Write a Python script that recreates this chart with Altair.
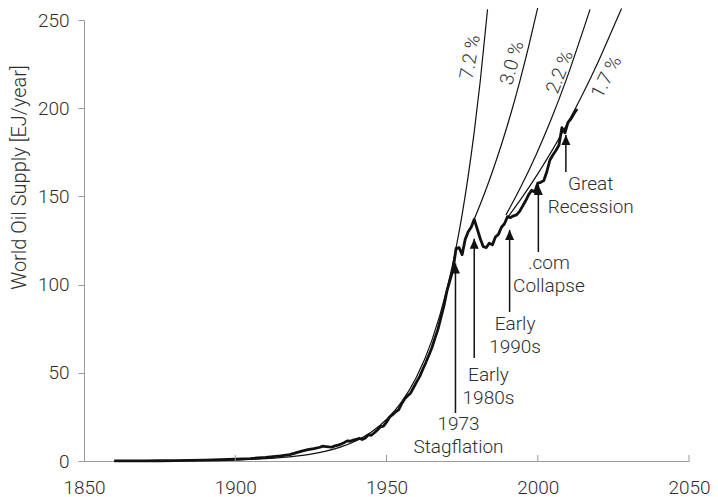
import altair as alt
import pandas as pd

# ---- data ----
data_years = [1860, 1865, 1870, 1875, 1880, 1885, 1890, 1895, 1900, 1905, 1910, 1915, 1918,
              1920, 1922, 1924, 1926, 1928, 1929, 1930, 1931, 1932, 1933, 1934, 1935, 1936,
              1937, 1938, 1939, 1940, 1941, 1942, 1943, 1944, 1945, 1946, 1947, 1948, 1949,
              1950, 1951, 1952, 1953, 1954, 1955, 1956, 1957, 1958, 1959, 1960, 1961, 1962,
              1963, 1964, 1965, 1966, 1967, 1968, 1969, 1970, 1971, 1972, 1973, 1974, 1975,
              1976, 1977, 1978, 1979, 1980, 1981, 1982, 1983, 1984, 1985, 1986, 1987, 1988,
              1989, 1990, 1991, 1992, 1993, 1994, 1995, 1996, 1997, 1998, 1999, 2000, 2001,
              2002, 2003, 2004, 2005, 2006, 2007, 2008, 2009, 2010, 2011, 2012, 2013]
supply = [0.02, 0.05, 0.1, 0.15, 0.25, 0.35, 0.5, 0.7, 1.0, 1.4, 2.0, 2.9, 3.6,
          4.6, 5.6, 6.4, 7.0, 7.8, 8.4, 8.2, 8.0, 7.9, 8.6, 9.0, 9.6, 10.4,
          11.4, 11.2, 11.8, 12.2, 12.8, 12.2, 13.0, 14.8, 14.6, 16.0, 17.6, 19.4, 19.8,
          22.0, 24.8, 26.2, 27.8, 29.0, 32.4, 35.2, 37.0, 38.6, 41.8, 45.0, 48.0, 52.0,
          55.8, 60.0, 64.2, 69.5, 74.6, 81.4, 88.0, 96.5, 102.5, 108.5, 120.5, 121.0, 117.0,
          125.5, 130.0, 132.5, 137.0, 131.5, 126.0, 121.5, 121.0, 123.5, 122.5, 127.0, 128.5, 132.5,
          134.5, 138.5, 138.0, 139.0, 139.5, 141.5, 144.5, 147.5, 151.0, 153.5, 152.5, 157.5, 158.0,
          159.0, 164.0, 170.5, 173.5, 176.0, 179.0, 189.0, 186.0, 192.0, 194.0, 197.0, 199.5]

# growth-rate reference curves
g72_years = [1860, 1870, 1880, 1890, 1900, 1910, 1920, 1925, 1930, 1935, 1940, 1945, 1950,
             1955, 1960, 1965, 1970, 1973, 1975, 1977, 1979, 1981, 1983.4]
g72_vals = [0.04, 0.08, 0.16, 0.32, 0.66, 1.35, 2.75, 3.9, 5.6, 8.0, 11.5, 16.4, 23.5,
            33.5, 47.9, 68.4, 97.7, 120.9, 139.7, 161.5, 186.6, 215.4, 256]
g30_years = [1979, 1982, 1985, 1988, 1991, 1994, 1997, 2000]
g30_vals = [137, 149.9, 164, 179.4, 196.3, 214.8, 235, 257]
g22_years = [1989.5, 1994.5, 1999.5, 2004.5, 2009.5, 2014.5, 2017.3]
g22_vals = [139.5, 155.7, 173.8, 194, 216.5, 241.6, 256]
g17_years = [1990, 1995, 2000, 2005, 2010, 2015, 2020, 2025, 2027.7]
g17_vals = [138, 149.9, 162.8, 176.8, 192, 208.5, 226.4, 245.9, 256.5]

rate_labels = ["7.2 %", "3.0 %", "2.2 %", "1.7 %"]
rate_label_year = [1977.7, 1991.5, 2007.3, 2022.7]
rate_label_val = [229.0, 225.6, 220.5, 217.7]
rate_label_angle = [280, 285, 291, 297]

event_labels = ["1973\nStagflation", "Early\n1980s", "Early\n1990s", ".com\nCollapse", "Great\nRecession"]
event_year = [1972.8, 1979.0, 1990.7, 2000.2, 2009.3]
event_tip = [112.0, 126.0, 131.0, 156.5, 184.8]
event_base = [27.2, 58.4, 84.5, 118.5, 163.8]
event_label_year = [1973.8, 1983.7, 1992.5, 2003.7, 2017.5]
event_label_val = [26.1, 53.9, 82.8, 117.3, 162.1]

x_ticks = [1850, 1900, 1950, 2000, 2050]
y_ticks = [0, 50, 100, 150, 200, 250]

# ---- tables ----
df = pd.DataFrame({"year": data_years, "supply": supply})
curves = pd.concat([
    pd.DataFrame({"year": g72_years, "val": g72_vals, "rate": "7.2"}),
    pd.DataFrame({"year": g30_years, "val": g30_vals, "rate": "3.0"}),
    pd.DataFrame({"year": g22_years, "val": g22_vals, "rate": "2.2"}),
    pd.DataFrame({"year": g17_years, "val": g17_vals, "rate": "1.7"}),
], ignore_index=True)
rates = pd.DataFrame({"label": rate_labels, "year": rate_label_year,
                      "val": rate_label_val, "angle": rate_label_angle})
events = pd.DataFrame({"label": event_labels, "year": event_year, "tip": event_tip,
                       "base": event_base, "ly": event_label_year, "lv": event_label_val})
ticks_df = pd.DataFrame({"year": x_ticks[1:]})

FONT = "Roboto"
FS = 19
TXT = "#2e2e2e"
AX = "#9a9a9a"

xs = alt.Scale(domain=[1850, 2050], nice=False, zero=False)
ys = alt.Scale(domain=[0, 250], nice=False)

x_axis = alt.Axis(values=x_ticks, format="d", ticks=False, labelPadding=17, labelFlush=False,
                  domainColor=AX, labelFontSize=FS, labelColor=TXT, labelFont=FONT,
                  labelFontWeight=300, grid=False, title=None)
y_axis = alt.Axis(values=y_ticks, tickSize=6, tickColor=AX, domainColor=AX,
                  labelPadding=9, labelFontSize=FS, labelColor=TXT, labelFont=FONT,
                  labelFontWeight=300, grid=False,
                  title="World Oil Supply [EJ/year]", titleFont=FONT, titleFontSize=20,
                  titleFontWeight=300, titleColor=TXT, titleAngle=270, titleAlign="center",
                  titleBaseline="alphabetic", titleX=-59, titleY=157)

main = alt.Chart(df).mark_line(color="#111", strokeWidth=2.8, strokeJoin="round").encode(
    x=alt.X("year:Q", scale=xs, axis=x_axis),
    y=alt.Y("supply:Q", scale=ys, axis=y_axis),
)

growth = alt.Chart(curves).mark_line(color="#111", strokeWidth=1.2, interpolate="monotone").encode(
    x="year:Q", y="val:Q", detail="rate:N",
)

xticks = alt.Chart(ticks_df).mark_rule(color=AX, strokeWidth=1).encode(
    x="year:Q", y=alt.value(441), y2=alt.value(435),
)

rate_text = alt.Chart(rates).mark_text(font=FONT, fontSize=FS, fontWeight=300, color=TXT,
                                       align="center", baseline="middle").encode(
    x="year:Q", y="val:Q", text="label:N", angle=alt.Angle("angle:Q", scale=None),
)

arrow_lines = alt.Chart(events).mark_rule(color="#111", strokeWidth=1.5).encode(
    x="year:Q", y="base:Q", y2="tip:Q",
)
arrow_heads = alt.Chart(events).mark_point(shape="M0,0L-0.45,1L0.45,1Z", size=400,
                                           filled=True, color="#111", opacity=1,
                                           strokeWidth=0).encode(
    x="year:Q", y="tip:Q",
)
event_text = alt.Chart(events).mark_text(font=FONT, fontSize=FS, fontWeight=300, color=TXT,
                                         align="center", baseline="top", lineBreak="\n",
                                         lineHeight=23).encode(
    x="ly:Q", y="lv:Q", text="label:N",
)

chart = alt.layer(growth, main, xticks, arrow_lines, arrow_heads, event_text, rate_text).properties(
    width=605, height=441,
    autosize=alt.AutoSizeParams(type="none"),
    padding={"left": 76, "top": 12, "right": 21, "bottom": 36},
    background="white",
).configure_view(stroke=None)

chart.save("out.html", embed_options={"renderer": "svg", "actions": False})
